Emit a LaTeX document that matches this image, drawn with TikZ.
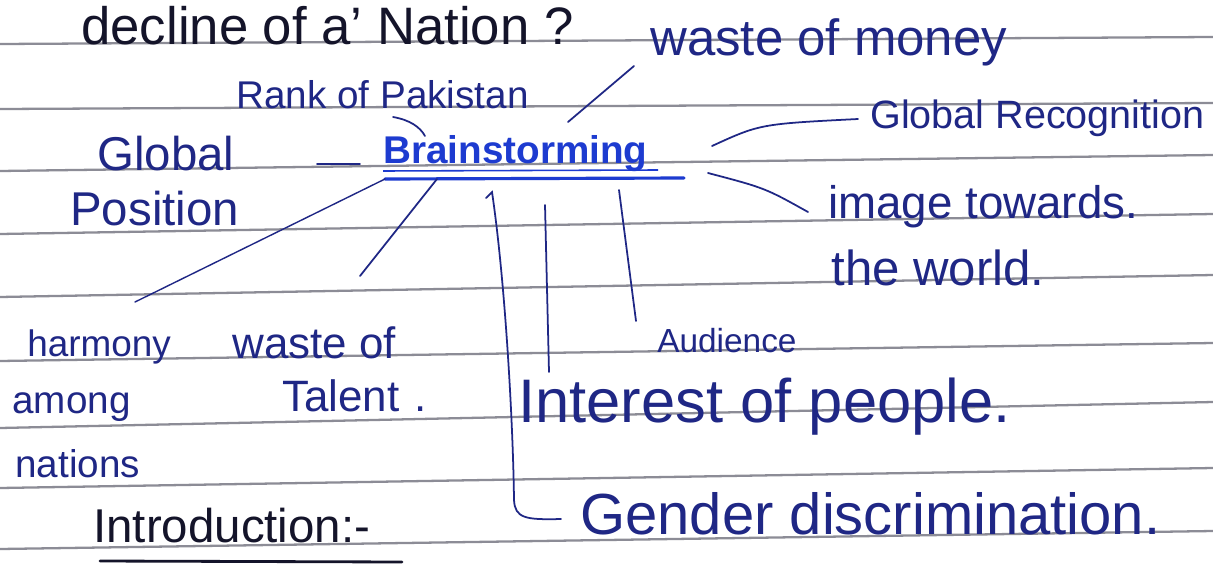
\documentclass[tikz,border=0pt]{standalone}
\usepackage{fontspec}
\setmainfont{Liberation Sans}
\usepackage{tikz}
\definecolor{inkblue}{HTML}{1F2785}
\definecolor{brightblue}{HTML}{1D3BD0}
\definecolor{inkblack}{HTML}{14142A}
\definecolor{ruling}{HTML}{8C8C96}
\newcommand{\sz}[1]{% handwriting size
\fontsize{#1}{#1}\selectfont}
\tikzstyle{note} = [
    inner sep=0pt,
    anchor=base west,
    text=inkblue
    ]
\tikzstyle{link} = [
    draw=inkblue,
    line width=1pt,
    line cap=round
    ]
\tikzstyle{paperline} = [
    draw=ruling,
    line width=1.3pt
    ]

\begin{document}
\begin{tikzpicture}[x=0.02cm, y=-0.02cm]
\fill[white] (0,0) rectangle (1213,578);
\useasboundingbox (0,0) rectangle (1213,578);

% ruled lines of the notebook
\foreach \l/\r in {44/37, 109/103, 171/155, 234/214, 297/275, 361/343, 428/402, 488/468, 549/531}
    \draw[paperline] (0,\l) -- (1213,\r);

\node[note, text=inkblack] (title) at (81,44) {\sz{30}decline of a' Nation ?};
\node[note] (money) at (650,55) {\sz{29}waste of money};
\node[note] (rank) at (236,108) {\sz{22}Rank of Pakistan};
\node[note] (glob1) at (97,170) {\sz{27}Global};
\node[note] (glob2) at (70,225) {\sz{27}Position};
\node[note, text=brightblue] (brain) at (383,163) {\sz{22}\bfseries Brainstorming};
\node[note] (recog) at (870,128) {\sz{22.5}Global Recognition};
\node[note] (image1) at (828,218) {\sz{26}image towards.};
\node[note] (image2) at (831,285) {\sz{28}the world.};
\node[note] (aud) at (657,352) {\sz{19}Audience};
\node[note] (harm1) at (27,356) {\sz{21}harmony};
\node[note] (harm2) at (12,413) {\sz{22}among};
\node[note] (harm3) at (15,477) {\sz{22}nations};
\node[note] (tal1) at (232,358) {\sz{25}waste of};
\node[note] (tal2) at (282,411) {\sz{25}Talent\,\,.};
\node[note] (interest) at (518,422) {\sz{35}Interest of people.};
\node[note] (gender) at (580,534) {\sz{33}Gender discrimination.};
\node[note, text=inkblack] (intro) at (93,542) {\sz{27}Introduction:-};

% underlines
\coordinate (bl) at (385,179);
\coordinate (br) at (684,178);
\draw[brightblue, line width=0.9pt] (383,171) -- (658,170);
\draw[brightblue, line width=1.8pt, line cap=round] (bl) -- (br);
\draw[inkblack, line width=1.6pt, line cap=round] (100,561) -- (402,562);

% branches of the map
\coordinate (bMoney) at (568,122);
\coordinate (pMoney) at (634,66);
\coordinate (pRank) at (393,117);
\coordinate (bRank) at (425,136);
\coordinate (pGlob) at (317,164);
\coordinate (bGlob) at (360,164);
\coordinate (bRecog) at (712,146);
\coordinate (pRecog) at (858,119);
\coordinate (bImage) at (708,173);
\coordinate (pImage) at (808,212);
\coordinate (pHarm) at (135,302);
\coordinate (bTal) at (437,179);
\coordinate (pTal) at (360,276);
\coordinate (bGender) at (492,192);
\coordinate (pGender) at (561,519);
\coordinate (bInt) at (545,205);
\coordinate (pInt) at (549,372);
\coordinate (bAud) at (619,190);
\coordinate (pAud) at (636,321);

\draw[link] (bMoney) -- (pMoney);
\draw[link] (pRank) .. controls (410,120) and (420,127) .. (bRank);
\draw[link] (pGlob) -- (bGlob);
\draw[link] (bRecog) .. controls (760,124) .. (pRecog);
\draw[link] (bImage) .. controls (765,188) .. (pImage);
\draw[link, line width=0.8pt] (bl) -- (pHarm);
\draw[link] (bTal) -- (pTal);
\draw[link] (486,198) -- (bGender) .. controls (505,280) and (513,420) .. (514,500) .. controls (515,518) and (525,520) .. (pGender);
\draw[link] (bInt) -- (pInt);
\draw[link] (bAud) -- (pAud);
\end{tikzpicture}
\end{document}
